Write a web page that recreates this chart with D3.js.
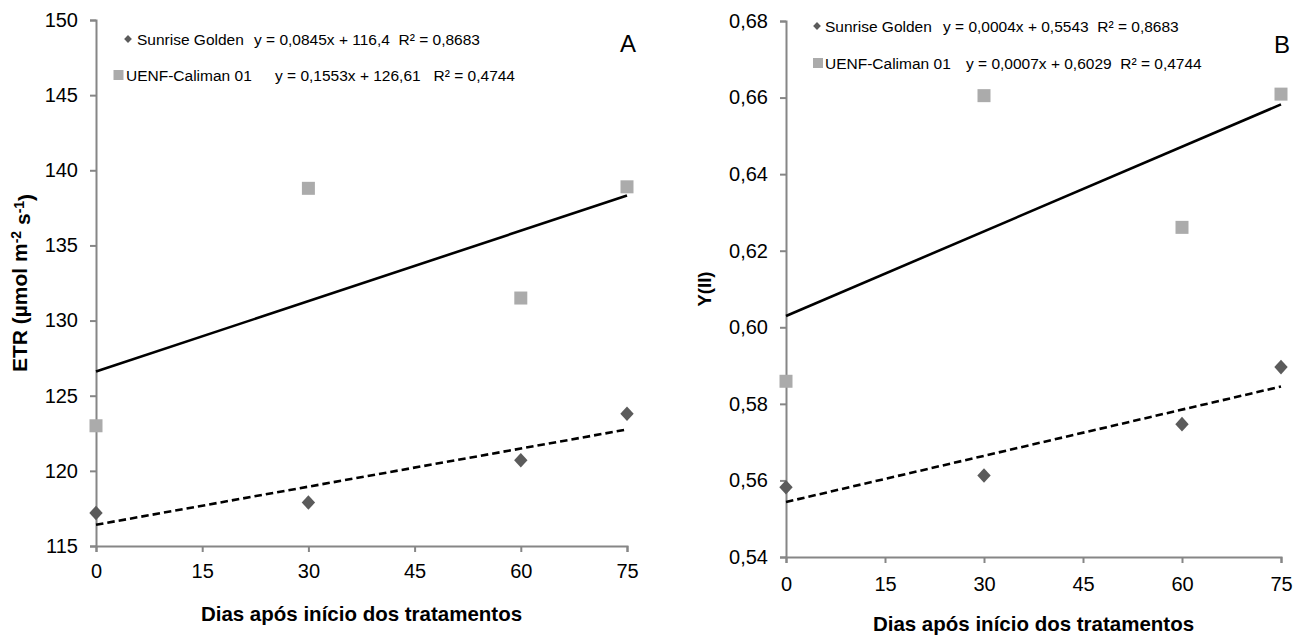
<!DOCTYPE html>
<html>
<head>
<meta charset="utf-8">
<script src="https://cdn.jsdelivr.net/npm/d3@7"></script>
<style>
  html, body { margin: 0; padding: 0; background: #fff; }
  svg { display: block; font-family: "Liberation Sans", Arial, sans-serif; }
  text { white-space: pre; }
</style>
</head>
<body>
<svg id="chart" width="1308" height="637"></svg>
<script>
// Sampling days after treatment start
const days = [0, 30, 60, 75];
const xTickValues = [0, 15, 30, 45, 60, 75];
const seriesNames = ["Sunrise Golden", "UENF-Caliman 01"];

// Panel A: electron transport rate
const etrSunrise = [117.2, 117.9, 120.7, 123.8];
const etrCaliman = [123.0, 138.8, 131.5, 138.9];
const etrTicks = [115, 120, 125, 130, 135, 140, 145, 150];
const etrEquations = ["y = 0,0845x + 116,4  R\u00B2 = 0,8683", "y = 0,1553x + 126,61   R\u00B2 = 0,4744"];

// Panel B: effective quantum yield of PSII
const yiiSunrise = [0.5582, 0.5613, 0.5747, 0.5896];
const yiiCaliman = [0.5859, 0.6605, 0.6261, 0.6609];
const yiiTicks = [0.54, 0.56, 0.58, 0.60, 0.62, 0.64, 0.66, 0.68];
const yiiEquations = ["y = 0,0004x + 0,5543  R\u00B2 = 0,8683", "y = 0,0007x + 0,6029  R\u00B2 = 0,4744"];

const xTitle = "Dias após início dos tratamentos";

const svg = d3.select("#chart");
const AXIS = "#868686";
const DARK = "#5b5b5b";
const LIGHT = "#ababab";

// ordinary least squares fit
function fit(xs, ys) {
  const mx = d3.mean(xs), my = d3.mean(ys);
  let sxy = 0, sxx = 0;
  xs.forEach((x, i) => { sxy += (x - mx) * (ys[i] - my); sxx += (x - mx) * (x - mx); });
  const b = sxy / sxx;
  return { slope: b, intercept: my - b * mx };
}

function panel(cfg) {
  const x = d3.scaleLinear().domain([0, 75]).range([cfg.left, cfg.right]);
  const y = d3.scaleLinear().domain([cfg.ticks[0], cfg.ticks[cfg.ticks.length - 1]]).range([cfg.bottom, cfg.top]);
  const g = svg.append("g");

  // axes
  const yAxis = g.append("g")
    .attr("transform", `translate(${cfg.left},0)`)
    .call(d3.axisLeft(y).tickValues(cfg.ticks).tickFormat(cfg.fmt).tickSize(6).tickPadding(12));
  const xAxis = g.append("g")
    .attr("transform", `translate(0,${cfg.bottom})`)
    .call(d3.axisBottom(x).tickValues(xTickValues).tickFormat(d3.format("d")).tickSize(6).tickPadding(cfg.xPad));
  [yAxis, xAxis].forEach(a => {
    a.select(".domain").attr("stroke", AXIS).attr("stroke-width", 2);
    a.selectAll(".tick line").attr("stroke", AXIS).attr("stroke-width", 2);
    a.selectAll(".tick text").attr("fill", "#000").style("font-size", "20px")
      .style("font-family", "Liberation Sans, Arial, sans-serif");
  });

  // trend lines
  const series = [
    { values: cfg.sunrise, dash: "7.5,4" },
    { values: cfg.caliman, dash: null }
  ];
  series.forEach(s => {
    const f = fit(days, s.values);
    g.append("line")
      .attr("x1", x(0)).attr("y1", y(f.intercept))
      .attr("x2", x(75)).attr("y2", y(f.intercept + f.slope * 75))
      .attr("stroke", "#000").attr("stroke-width", 2.6)
      .attr("stroke-dasharray", s.dash);
  });

  // data markers
  const diamond = d3.symbol().type(d3.symbolDiamond2).size(135);
  g.selectAll(".sq").data(cfg.caliman).join("rect")
    .attr("x", (d, i) => x(days[i]) - 6.5).attr("y", d => y(d) - 6.5)
    .attr("width", 13).attr("height", 13).attr("fill", LIGHT);
  g.selectAll(".dm").data(cfg.sunrise).join("path")
    .attr("d", diamond)
    .attr("transform", (d, i) => `translate(${x(days[i])},${y(d)}) scale(0.92,1)`)
    .attr("fill", DARK);

  // legend with regression equations
  const lg = g.append("g").style("font-size", "15.5px");
  lg.append("path").attr("d", d3.symbol().type(d3.symbolDiamond2).size(42))
    .attr("transform", `translate(${cfg.leg.dx},${cfg.leg.y1}) scale(0.95,1)`).attr("fill", DARK);
  lg.append("rect").attr("x", cfg.leg.sx - 5).attr("y", cfg.leg.y2 - 5).attr("width", 10).attr("height", 10).attr("fill", LIGHT);
  lg.append("text").attr("x", cfg.leg.t1).attr("y", cfg.leg.y1).attr("dy", "0.36em").text(seriesNames[0]);
  lg.append("text").attr("x", cfg.leg.t2).attr("y", cfg.leg.y2).attr("dy", "0.36em").text(seriesNames[1]);
  lg.append("text").attr("x", cfg.leg.e1).attr("y", cfg.leg.y1).attr("dy", "0.36em").text(cfg.eqs[0]);
  lg.append("text").attr("x", cfg.leg.e2).attr("y", cfg.leg.y2).attr("dy", "0.36em").text(cfg.eqs[1]);

  // panel letter
  g.append("text").attr("x", cfg.letterX).attr("y", cfg.letterY).attr("text-anchor", "middle")
    .style("font-size", "24px").text(cfg.letter);

  // axis titles
  g.append("text").attr("x", (cfg.left + cfg.right) / 2).attr("y", cfg.xTitleY)
    .attr("text-anchor", "middle").style("font-size", "20.5px").style("font-weight", "bold").text(xTitle);
  const yt = g.append("text")
    .attr("transform", `translate(${cfg.yTitleX},${(cfg.top + cfg.bottom) / 2}) rotate(-90)`)
    .attr("text-anchor", "middle").style("font-weight", "bold").style("font-size", cfg.yTitleSize);
  cfg.yTitle(yt);
}

panel({
  left: 96, right: 627, top: 20, bottom: 546, xPad: 12,
  ticks: etrTicks, fmt: d3.format("d"),
  sunrise: etrSunrise, caliman: etrCaliman, eqs: etrEquations,
  leg: { dx: 128, sx: 118.5, y1: 39, y2: 75, t1: 137, t2: 126, e1: 254, e2: 275 },
  letter: "A", letterX: 628, letterY: 52,
  xTitleY: 621, yTitleX: 27, yTitleSize: "21px",
  yTitle: t => {
    t.append("tspan").text("ETR (µmol m");
    t.append("tspan").attr("dy", "-0.45em").style("font-size", "14px").text("-2");
    t.append("tspan").attr("dy", "0.45em").text(" s");
    t.append("tspan").attr("dy", "-0.45em").style("font-size", "14px").text("-1");
    t.append("tspan").attr("dy", "0.45em").text(")");
  }
});

panel({
  left: 786, right: 1281, top: 21, bottom: 557, xPad: 14,
  ticks: yiiTicks, fmt: v => d3.format(".2f")(v).replace(".", ","),
  sunrise: yiiSunrise, caliman: yiiCaliman, eqs: yiiEquations,
  leg: { dx: 817, sx: 818, y1: 26, y2: 63, t1: 825, t2: 825, e1: 943, e2: 966 },
  letter: "B", letterX: 1282, letterY: 53,
  xTitleY: 631, yTitleX: 711, yTitleSize: "18.5px",
  yTitle: t => { t.text("Y(II)"); }
});
</script>
</body>
</html>
